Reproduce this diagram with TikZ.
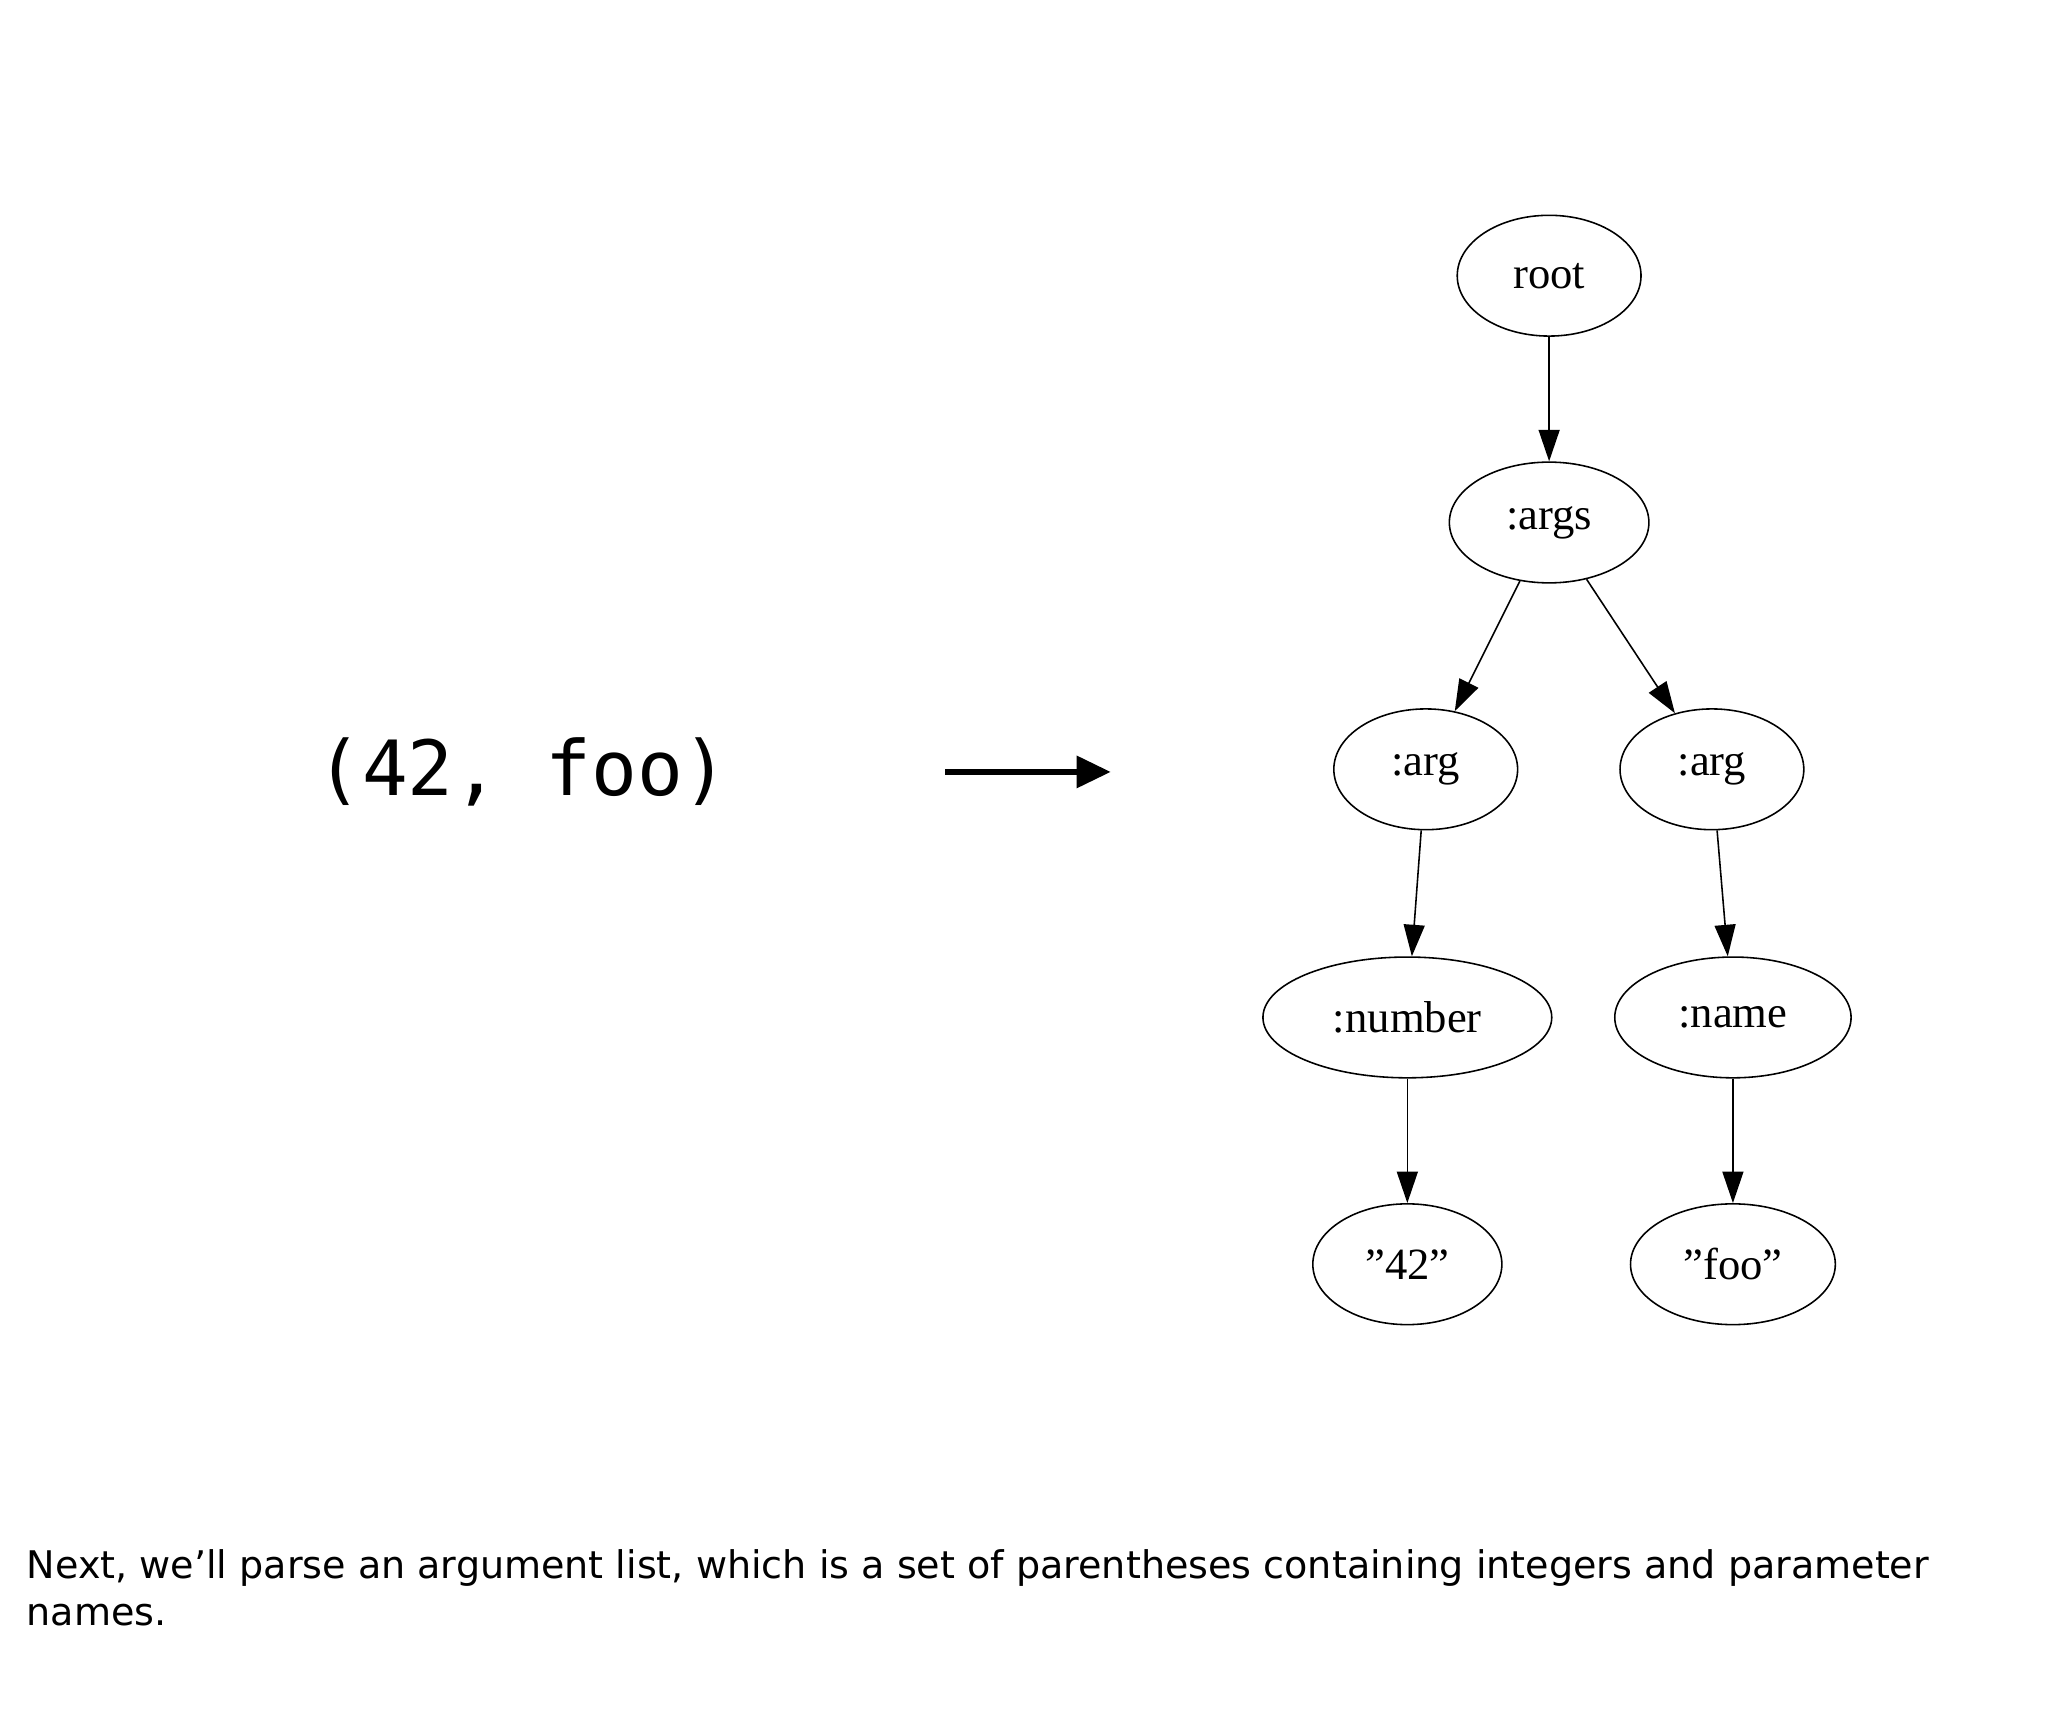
\documentclass[tikz,border=0pt]{standalone}
\usepackage{fontspec}
\setmainfont{Liberation Serif}
\newfontfamily\monof{DejaVu Sans Mono}
\newfontfamily\sansf{DejaVu Sans}
\usetikzlibrary{shapes.geometric,arrows.meta}
\begin{document}
\begin{tikzpicture}[x=0.5pt,y=-0.5pt,
  gv/.style={draw,ellipse,line width=0.6pt,minimum height=46pt,inner sep=0pt,font=\fontsize{17}{20}\selectfont},
  edge/.style={line width=0.6pt,-{Triangle[length=12pt,width=8pt]}}]
\useasboundingbox (0,0) rectangle (1560,1310);
\node[gv,minimum width=70pt] (root) at (1180,210) {root};
\node[gv,minimum width=76pt] (args) at (1180,398) {:args};
\node[gv,minimum width=70pt] (arg1) at (1086,586) {:arg};
\node[gv,minimum width=70pt] (arg2) at (1304,586) {:arg};
\node[gv,minimum width=110pt] (num) at (1072,775) {:number};
\node[gv,minimum width=90pt] (nam) at (1320,775) {:name};
\node[gv,minimum width=72pt] (s42) at (1072,963) {"42"};
\node[gv,minimum width=78pt] (sfoo) at (1320,963) {"foo"};
\draw[edge] (root) -- (args);
\draw[edge] (args) -- (arg1);
\draw[edge] (args) -- (arg2);
\draw[edge] (arg1) -- (num);
\draw[edge] (arg2) -- (nam);
\draw[edge] (num) -- (s42);
\draw[edge] (nam) -- (sfoo);
\node[font=\monof\fontsize{29}{34}\selectfont] (src) at (398,588) {(42, foo)};
\coordinate (a1) at (720,588);
\coordinate (a2) at (846,588);
\draw[line width=2pt,-{Triangle[length=13pt,width=12pt]}] (a1) -- (a2);
\node[anchor=north west,align=left,inner sep=0pt,font=\sansf\fontsize{14.5}{18}\selectfont] (cap) at (20,1180) {Next, we’ll parse an argument list, which is a set of parentheses containing integers and parameter\\names.};
\end{tikzpicture}
\end{document}
